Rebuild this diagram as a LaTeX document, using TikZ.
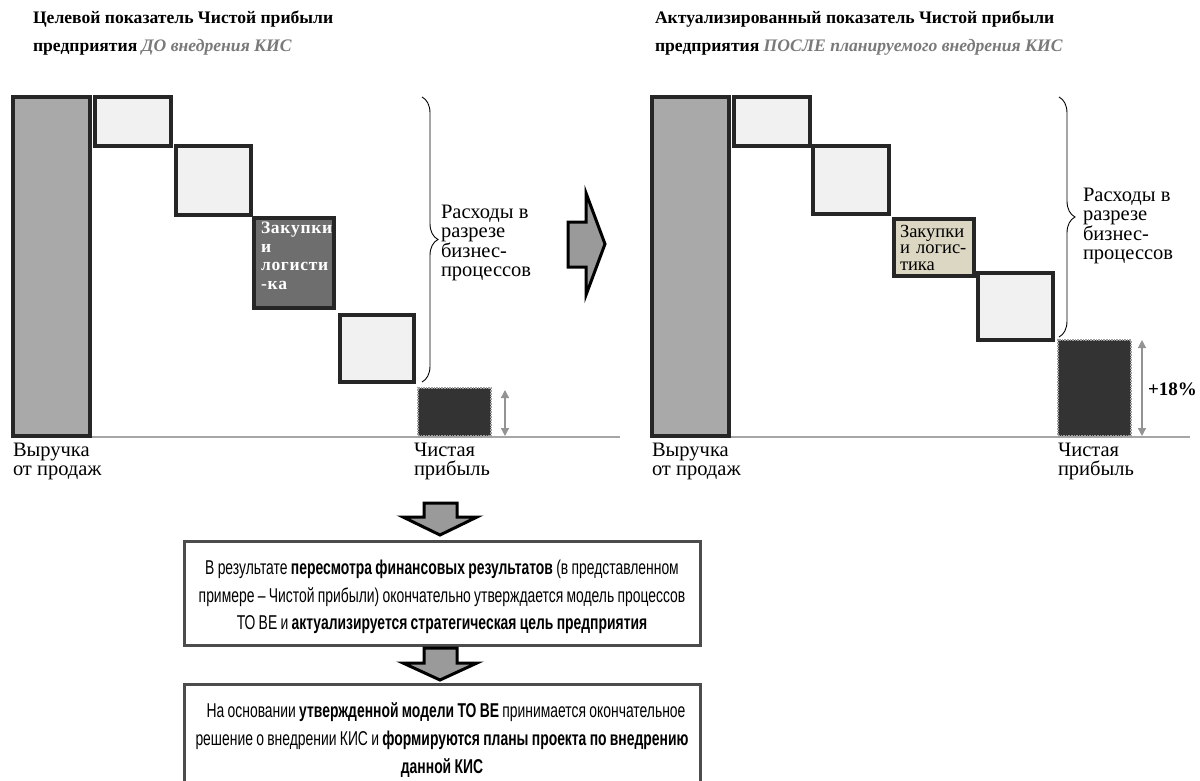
\documentclass[tikz,border=0pt]{standalone}
\usepackage{fontspec}
\setmainfont{Liberation Serif}
\newfontfamily\narrowsans[FakeStretch=0.695]{Liberation Sans}
\usetikzlibrary{decorations.pathreplacing,arrows.meta}
\definecolor{titlegrey}{HTML}{7A7A7A}
\definecolor{barfill}{HTML}{A9A9A9}
\definecolor{costfill}{HTML}{F1F1F1}
\definecolor{darkcost}{HTML}{6E6E6E}
\definecolor{beige}{HTML}{DCD7C2}
\definecolor{netfill}{HTML}{333333}
\definecolor{arrowfill}{HTML}{9A9A9A}
\newcommand{\tightsp}{\spaceskip=3.3pt\relax\xspaceskip=3.3pt\relax}
\begin{document}
\begin{tikzpicture}[x=1pt,y=-1pt,
  every node/.style={inner sep=0pt, outer sep=0pt},
  barbox/.style={draw=black!85, line width=3.3pt, fill=barfill, anchor=north west},
  costbox/.style={draw=black!85, line width=3.3pt, fill=costfill, anchor=north west},
  netbox/.style={draw=gray!75, densely dotted, line width=1.6pt, fill=netfill, anchor=north west},
  titletext/.style={anchor=north west, align=left, font=\fontsize{17.6}{28}\selectfont\bfseries},
  lbltext/.style={anchor=north west, align=left, font=\fontsize{20.5}{19.4}\selectfont},
  bigarrow/.style={draw=black, line width=3pt, fill=arrowfill, line join=miter},
  dimarrow/.style={{Triangle[width=8pt,length=8pt]}-{Triangle[width=8pt,length=8pt]}, draw=gray!85, line width=1.3pt},
  base/.style={draw=gray!70, line width=1.2pt},
  resbox/.style={draw=black!70, line width=3pt, fill=white, minimum width=516pt, anchor=north},
  restext/.style={align=flush center, text width=516pt, font=\narrowsans\fontsize{20}{27.6}\selectfont},
  bracedeco/.style={decorate, decoration={brace, amplitude=16pt}, draw=black, line width=0.9pt}
]
\useasboundingbox (0,0) rectangle (1200,781);
\fill[white] (0,0) rectangle (1200,781);

% ---------- titles ----------
\node[titletext] (t1) at (33,11) {Целевой показатель Чистой прибыли\\предприятия \textcolor{titlegrey}{\itshape ДО внедрения КИС}};
\node[titletext] (t2) at (655,11) {Актуализированный показатель Чистой прибыли\\предприятия \textcolor{titlegrey}{\itshape ПОСЛЕ планируемого внедрения КИС}};

% ---------- left chart ----------
\coordinate (bl1) at (90,437);
\coordinate (bl2) at (620,437);
\draw[base] (bl1) -- (bl2);
\node[barbox, minimum width=77pt, minimum height=339pt] (lrev) at (13,97) {};
\node[costbox, minimum width=76pt, minimum height=49pt] (lc1) at (95,97) {};
\node[costbox, minimum width=75pt, minimum height=69pt] (lc2) at (176,146) {};
\node[draw=black!85, line width=3.3pt, fill=darkcost, anchor=north west, minimum width=80pt, minimum height=90pt,
      align=left, text=white, font=\fontsize{17.5}{18.5}\selectfont\bfseries, text width=76pt, inner sep=2pt] (lc3) at (254,218)
      {\vbox to 86pt{\vskip2pt\hbox{\hskip5pt З\kern.7ptа\kern.7ptк\kern.7ptу\kern.7ptп\kern.7ptк\kern.7ptи}\hbox{\hskip5pt и}\hbox{\hskip5pt л\kern.7ptо\kern.7ptг\kern.7ptи\kern.7ptс\kern.7ptт\kern.7ptи}\hbox{\hskip5pt -\kern.7ptк\kern.7ptа}\vss}};
\node[costbox, minimum width=74pt, minimum height=67pt] (lc4) at (340,315) {};
\node[netbox, minimum width=73pt, minimum height=48pt] (lnet) at (418,388) {};
\coordinate (la1) at (505,390);
\coordinate (la2) at (505,436);
\draw[dimarrow] (la1) -- (la2);
\coordinate (lb1) at (422,97);
\coordinate (lb2) at (422,382);
\draw[bracedeco] (lb1) -- (lb2);
\node[lbltext] (lexp) at (441,205) {Расходы в\\разрезе\\бизнес-\\процессов};
\node[lbltext] (lrevl) at (13,443) {Выручка\\от продаж};
\node[lbltext] (lnetl) at (414,443) {Чистая\\прибыль};

% ---------- middle arrow ----------
\draw[bigarrow] (568,222) -- (586,222) -- (586,193) -- (605,244) -- (586,295) -- (586,267) -- (568,267) -- cycle;

% ---------- right chart ----------
\coordinate (br1) at (731,437);
\coordinate (br2) at (1190,437);
\draw[base] (br1) -- (br2);
\node[barbox, minimum width=77pt, minimum height=339pt] (rrev) at (652,97) {};
\node[costbox, minimum width=76pt, minimum height=49pt] (rc1) at (734,97) {};
\node[costbox, minimum width=76pt, minimum height=68pt] (rc2) at (813,146) {};
\node[draw=black!85, line width=3.3pt, fill=beige, anchor=north west, minimum width=80pt, minimum height=57pt,
      align=left, font=\fontsize{18.5}{16.5}\selectfont, text width=78pt, inner sep=0pt] (rc3) at (894,219)
      {\vbox to 55pt{\vskip5pt\hbox{\hskip5pt Закупки}\hbox{\hskip5pt и логис-}\hbox{\hskip5pt тика}\vss}};
\node[costbox, minimum width=75pt, minimum height=67pt] (rc4) at (978,273) {};
\node[netbox, minimum width=73pt, minimum height=96pt] (rnet) at (1058,340) {};
\coordinate (ra1) at (1142,340);
\coordinate (ra2) at (1142,436);
\draw[dimarrow] (ra1) -- (ra2);
\node[anchor=west, font=\fontsize{19}{20}\selectfont\bfseries] (pct) at (1148,389) {+18\%};
\coordinate (rb1) at (1059,97);
\coordinate (rb2) at (1059,337);
\draw[bracedeco] (rb1) -- (rb2);
\node[lbltext] (rexp) at (1083,188) {Расходы в\\разрезе\\бизнес-\\процессов};
\node[lbltext] (rrevl) at (652,443) {Выручка\\от продаж};
\node[lbltext] (rnetl) at (1058,443) {Чистая\\прибыль};

% ---------- down arrows and result boxes ----------
\draw[bigarrow] (424,503) -- (457,503) -- (457,517) -- (477,517) -- (440,535) -- (403,517) -- (424,517) -- cycle;
\node[resbox, minimum height=104pt] (res1) at (442,541) {};
\node[restext] (res1t) at (442,597)
  {\tightsp В результате \textbf{пересмотра финансовых результатов} (в представленном\\
   примере – Чистой прибыли) окончательно утверждается модель процессов\\
   ТО ВЕ и \textbf{актуализируется стратегическая цель предприятия}};
\draw[bigarrow] (424,648) -- (457,648) -- (457,663) -- (477,663) -- (440,680) -- (403,663) -- (424,663) -- cycle;
\node[resbox, minimum height=110pt] (res2) at (442,684) {};
\node[restext] (res2t) at (442,740)
  {\tightsp\hspace*{8pt}На основании \textbf{утвержденной модели ТО ВЕ} принимается окончательное\\
   решение о внедрении КИС и \textbf{формируются планы проекта по внедрению}\\
   \textbf{данной КИС}};
\end{tikzpicture}
\end{document}
